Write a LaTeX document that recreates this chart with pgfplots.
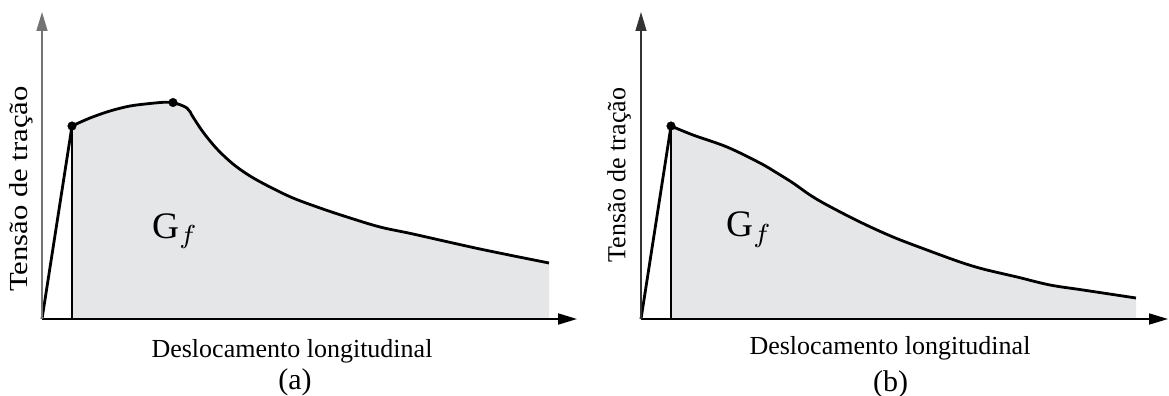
\documentclass[border=0pt]{standalone}
\usepackage{fontspec}
\setmainfont{Liberation Serif}
\usepackage{graphicx}
\usepackage{pgfplots}
\pgfplotsset{compat=1.18}
\usetikzlibrary{arrows.meta}

\definecolor{fillgray}{RGB}{229,230,232}
\newcommand\lbl{\fontsize{26bp}{31bp}\selectfont}
\newcommand\sub{\fontsize{30bp}{36bp}\selectfont}
\newcommand\gf{\scalebox{3.75}{$\mathrm{G}_{f}$}}

\pgfplotsset{
  panel/.style={
    anchor=south west, scale only axis,
    width=#1bp, height=307bp,
    xmin=0, xmax=#1, ymin=0, ymax=307,
    enlargelimits=false,
    axis lines=left, ticks=none, clip=false, axis on top,
  },
  curve/.style={black, line width=2.8bp, smooth, tension=0.55},
  area/.style={fill=fillgray, draw=none, smooth, tension=0.55},
  branch/.style={black, line width=2.8bp},
  peak/.style={only marks, mark=*, mark size=4.3bp, black},
}

% softening curve with a hardening branch
\pgfplotstableread{
x y
30 193
48 201
68 208
88 213
108 215.5
123 216.8
131 216.5
145 211
151 202
161 187
175 170
191 155
208 143
228 132
251 121
278 111
305 102
338 92
371 85
438 70
507 56
}\curveA

% purely softening curve
\pgfplotstableread{
x y
30 193
52 184
86 172
119 156
136 146
152 136
169 124
186 114
219 97
252 82
286 69
319 57
342 50
376 42
409 34
442 29
495 21
}\curveB

\begin{document}
\begin{tikzpicture}
\useasboundingbox (0,0) rectangle (1169bp,396bp);

% (a)
\begin{axis}[panel=535, at={(42bp,77bp)},
  x axis line style={black, line width=1.9bp, -{Triangle[length=19bp,width=11bp]}},
  y axis line style={black!55, line width=1.5bp, -{Triangle[length=19bp,width=11bp]}},
]
\addplot[area] table {\curveA} \closedcycle;
\addplot[curve] table {\curveA};
\addplot[branch] coordinates {(0,0) (30,193)};
\addplot[branch] coordinates {(30,0) (30,193)};
\addplot[peak] coordinates {(30,193) (131,216.5)};
\node[anchor=base west, inner sep=0pt] at (axis cs:110,81) {\gf};
\node[rotate=90, anchor=center] at (axis cs:-21,130) {\lbl\scalebox{1.18}[1]{Tensão de tração}};
\node[anchor=base] at (axis cs:250,-38) {\lbl Deslocamento longitudinal};
\node[anchor=base] at (axis cs:253,-70) {\sub (a)};
\end{axis}

% (b)
\begin{axis}[panel=527, at={(641bp,77bp)},
  x axis line style={black, line width=1.7bp, -{Triangle[length=19bp,width=11bp]}},
  y axis line style={black!80, line width=1.3bp, -{Triangle[length=19bp,width=11bp]}},
]
\addplot[area] table {\curveB} \closedcycle;
\addplot[curve] table {\curveB};
\addplot[branch] coordinates {(0,0) (30,193)};
\addplot[branch] coordinates {(30,0) (30,193)};
\addplot[peak] coordinates {(30,193)};
\node[anchor=base west, inner sep=0pt] at (axis cs:85,82) {\gf};
\node[rotate=90, anchor=center] at (axis cs:-22,144) {\lbl Tensão de tração};
\node[anchor=base] at (axis cs:249,-35) {\lbl Deslocamento longitudinal};
\node[anchor=base] at (axis cs:249.5,-72) {\sub (b)};
\end{axis}
\end{tikzpicture}
\end{document}
